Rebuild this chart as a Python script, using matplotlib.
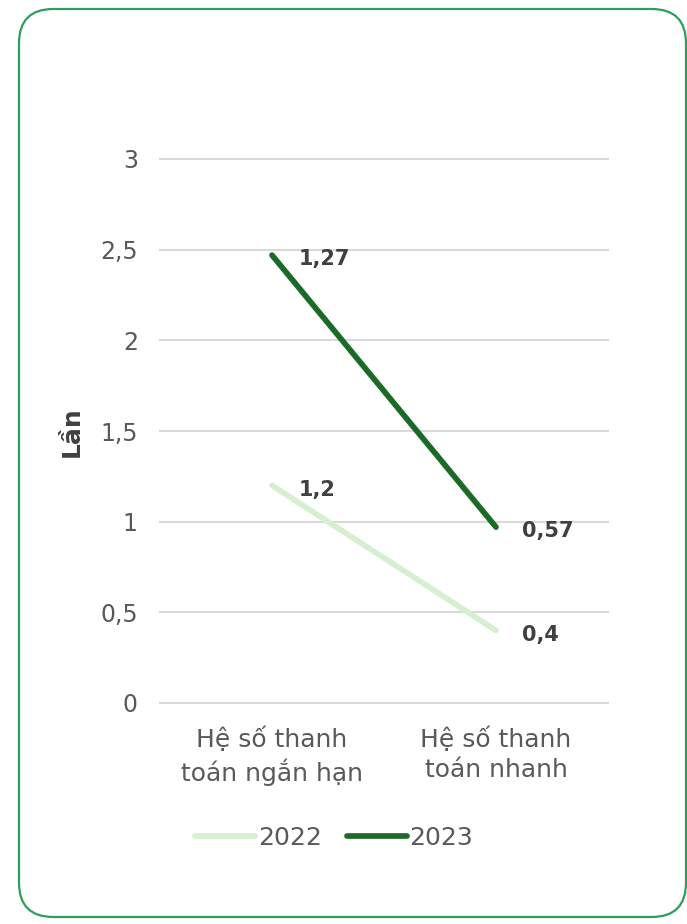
import matplotlib
matplotlib.use("Agg")
import matplotlib.pyplot as plt
from matplotlib.patches import FancyBboxPatch
import numpy as np

categories = ["Hệ số thanh\ntoán ngắn hạn", "Hệ số thanh\ntoán nhanh"]
series_names = ["2022", "2023"]
values_2022 = [1.2, 0.4]
values_2023 = [1.27, 0.57]
y_ticks = [0, 0.5, 1, 1.5, 2, 2.5, 3]
y_tick_labels = ["0", "0,5", "1", "1,5", "2", "2,5", "3"]
y_label = "Lần"

plt.rcParams['font.family'] = ['DejaVu Sans']

W, H = 687, 924
fig = plt.figure(figsize=(W / 100, H / 100), dpi=100)

# rounded border
border = FancyBboxPatch((19 / W, 7 / H), (W - 1 - 19) / W, (H - 9 - 7) / H,
                        boxstyle="round,pad=0,rounding_size=0.05",
                        transform=fig.transFigure, facecolor="none",
                        edgecolor="#2e9e5b", linewidth=1.6, mutation_aspect=W / H,
                        zorder=-1)
fig.patches.append(border)

ax = fig.add_axes([160 / W, (H - 703) / H, 448 / W, 544 / H])
ax.set_facecolor("none")

x = np.arange(len(categories))
stack_2023 = np.array(values_2022) + np.array(values_2023)

c22 = "#d5efcf"
c23 = "#1b6b27"
ax.plot(x, values_2022, color=c22, lw=4.1, solid_capstyle="round", label=series_names[0], zorder=3)
ax.plot(x, stack_2023, color=c23, lw=4.1, solid_capstyle="round", label=series_names[1], zorder=3)

for xi, yi, v in zip(x, values_2022, values_2022):
    ax.annotate(f"{v:g}".replace(".", ","), (xi, yi), xytext=(19, -3), textcoords="offset points",
                ha="left", va="center", fontsize=15, fontweight="bold", color="#404040")
for xi, yi, v in zip(x, stack_2023, values_2023):
    ax.annotate(f"{v:g}".replace(".", ","), (xi, yi), xytext=(19, -3), textcoords="offset points",
                ha="left", va="center", fontsize=15, fontweight="bold", color="#404040")

ax.set_xlim(-0.5, 1.5)
ax.set_ylim(0, 3)
ax.set_yticks(y_ticks)
ax.set_yticklabels(y_tick_labels)
ax.set_xticks(x)
ax.set_xticklabels(categories, linespacing=1.3)
ax.grid(axis="y", color="#d9d9d9", lw=1.5)
for gl in ax.get_ygridlines():
    gl.set_clip_on(False)
ax.set_axisbelow(True)
for s in ax.spines.values():
    s.set_visible(False)
ax.tick_params(axis="both", length=0, labelcolor="#595959")
ax.tick_params(axis="y", pad=16, labelsize=17)
ax.tick_params(axis="x", pad=17, labelsize=18)

fig.text(72 / W, 1 - 432 / H, y_label, rotation=90, ha="center", va="center",
         fontsize=18, fontweight="bold", color="#404040")

fig.legend(loc="center", bbox_to_anchor=(334 / W, 1 - 838 / H), ncol=2, frameon=False,
           fontsize=18, labelcolor="#595959", handlelength=2.4, handletextpad=0.12,
           columnspacing=1.0)

fig.savefig("out.png", dpi=100)
